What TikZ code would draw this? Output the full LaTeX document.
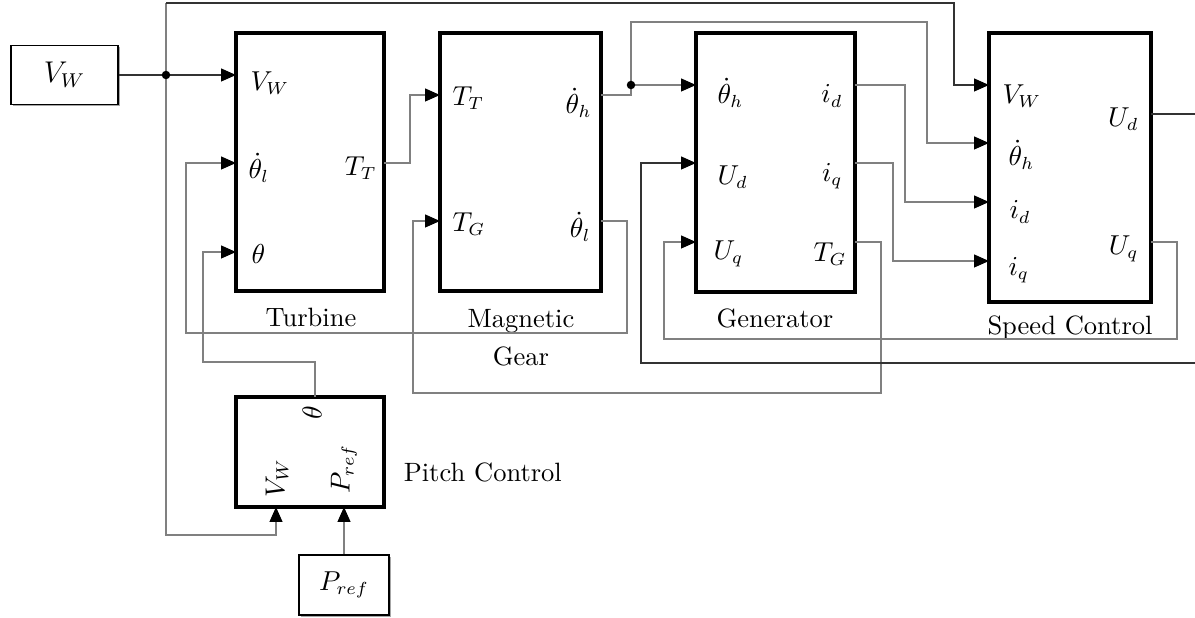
\documentclass[tikz,border=0pt]{standalone}
\usetikzlibrary{positioning, arrows.meta, fit, shadows}

\tikzset{
  block/.style={draw, line width=1.6pt, inner sep=0pt},
  source/.style={draw, line width=0.6pt, fill=white, inner sep=0pt,
    drop shadow={shadow xshift=0.8pt, shadow yshift=-0.8pt, fill=black!35, opacity=1}},
  wire/.style={draw=black!50, line width=0.5pt},
  mainwire/.style={draw=black!80, line width=0.5pt},
  inlab/.style={anchor=west, inner sep=0pt},
  outlab/.style={anchor=east, inner sep=0pt},
  caption/.style={anchor=base},
  >={Triangle[length=6pt, width=5.2pt, color=black, fill=black]},
}

\begin{document}
\begin{tikzpicture}[x=0.4pt, y=-0.4pt, every node/.style={font=\fontsize{10.6}{12.7}\selectfont}]
  \useasboundingbox (0,0) rectangle (1195,618);

  % Blocks
  \node[block, fit={(236,33) (384,291)}] (turb) {};
  \node[block, fit={(440,33) (601,291)}] (gear) {};
  \node[block, fit={(696,33) (855,292)}] (gen) {};
  \node[block, fit={(989,33) (1151,302)}] (speed) {};
  \node[block, fit={(236,397) (384,507)}] (pitch) {};

  % Sources
  \node[source, minimum width=42.8pt, minimum height=23.6pt, font=\fontsize{12}{14}\selectfont] (vw) at (64.5,75) {$V_W$};
  \node[source, minimum width=36pt, minimum height=24pt] (pr) at (344,585) {$P_{ref}$};

  % Ports
  \coordinate (tVW) at (236,75);
  \coordinate (tWl) at (236,163);
  \coordinate (tTh) at (236,252);
  \coordinate (tTT) at (384,163);
  \coordinate (gTT) at (440,95);
  \coordinate (gTG) at (440,221);
  \coordinate (gWh) at (601,95);
  \coordinate (gWl) at (601,221);
  \coordinate (nWh) at (696,85);
  \coordinate (nUd) at (696,163);
  \coordinate (nUq) at (696,242);
  \coordinate (nId) at (855,85);
  \coordinate (nIq) at (855,163);
  \coordinate (nTG) at (855,242);
  \coordinate (sVW) at (989,85);
  \coordinate (sWh) at (989,143);
  \coordinate (sId) at (989,202);
  \coordinate (sIq) at (989,261);
  \coordinate (sUd) at (1151,114);
  \coordinate (sUq) at (1151,242);
  \coordinate (pTh) at (315,397);
  \coordinate (pVW) at (276,507);
  \coordinate (pPr) at (344,507);

  % Junctions and routing corners
  \coordinate (j1) at (166,75);
  \coordinate (j2) at (631,85);
  \coordinate (vwUp) at (166,3);
  \coordinate (vwTop) at (954,3);
  \coordinate (vwLow) at (166,535);
  \coordinate (whTop) at (927,22);
  \coordinate (wlLow) at (186,333);
  \coordinate (thLow) at (203,362);
  \coordinate (tgLow) at (413,393);
  \coordinate (uqLow) at (664,339);
  \coordinate (udLow) at (641,363);

  % Port labels
  \node[inlab] (tVWl) at (250,83) {$V_W$};
  \node[inlab] (tWll) at (248,168) {$\dot{\theta}_l$};
  \node[inlab] (tThl) at (251,254) {$\theta$};
  \node[outlab] (tTTl) at (377,168) {$T_T$};
  \node[inlab] (gTTl) at (452,98) {$T_T$};
  \node[inlab] (gTGl) at (452,224) {$T_G$};
  \node[outlab] (gWhl) at (592,103) {$\dot{\theta}_h$};
  \node[outlab] (gWll) at (591,227) {$\dot{\theta}_l$};
  \node[inlab] (nWhl) at (717,93) {$\dot{\theta}_h$};
  \node[inlab] (nUdl) at (717,177) {$U_d$};
  \node[inlab] (nUql) at (713,254) {$U_q$};
  \node[outlab] (nIdl) at (843,96) {$i_d$};
  \node[outlab] (nIql) at (843,176) {$i_q$};
  \node[outlab] (nTGl) at (847,254) {$T_G$};
  \node[inlab] (sVWl) at (1002,96) {$V_W$};
  \node[inlab] (sWhl) at (1008,155) {$\dot{\theta}_h$};
  \node[inlab] (sIdl) at (1009,212) {$i_d$};
  \node[inlab] (sIql) at (1008,270) {$i_q$};
  \node[outlab] (sUdl) at (1139,119) {$U_d$};
  \node[outlab] (sUql) at (1139,249) {$U_q$};
  \node[rotate=90, inner sep=0pt] (pThl) at (312,413) {$\theta$};
  \node[rotate=90, inner sep=0pt] (pVWl) at (277,478) {$V_W$};
  \node[rotate=90, inner sep=0pt] (pPrl) at (344,469) {$P_{ref}$};

  % Captions
  \node[caption] (turbcap) at (311,327) {Turbine};
  \node[caption] (gearcap) at (521,328) {Magnetic};
  \node[caption] (gearcap2) at (521,366) {Gear};
  \node[caption] (gencap) at (775,328) {Generator};
  \node[caption] (speedcap) at (1070,335) {Speed Control};
  \node[anchor=base west] (pitchcap) at (395,482) {Pitch Control};

  % Wind speed
  \draw[mainwire] (vw) -- (j1);
  \draw[mainwire, ->] (j1) -- (tVW);
  \draw[wire] (j1) -- (vwUp);
  \draw[mainwire, ->] (vwUp) -- (vwTop) |- (sVW);
  \draw[wire, ->] (j1) -- (vwLow) -| (pVW);
  \fill (j1) circle[radius=1.7pt];

  % Torques
  \draw[wire, ->] (tTT) -- ++(26,0) |- (gTT);
  \draw[wire, ->] (nTG) -- ++(26,0) |- (tgLow) |- (gTG);

  % Speeds
  \draw[wire, ->] (gWl) -- ++(26,0) |- (wlLow) |- (tWl);
  \draw[wire] (gWh) -| (j2);
  \draw[wire, ->] (j2) -- (nWh);
  \draw[wire, ->] (j2) |- (whTop) |- (sWh);
  \fill (j2) circle[radius=1.7pt];

  % Pitch
  \draw[wire, ->] (pTh) |- (thLow) |- (tTh);
  \draw[wire, ->] (pr) -- (pPr);

  % Currents
  \draw[wire, ->] (nId) -- ++(50,0) |- (sId);
  \draw[wire, ->] (nIq) -- ++(38,0) |- (sIq);

  % Voltages
  \draw[wire, ->] (sUq) -- ++(26,0) |- (uqLow) |- (nUq);
  \draw[mainwire, ->] (sUd) -- ++(60,0) |- (udLow) |- (nUd);
\end{tikzpicture}
\end{document}
